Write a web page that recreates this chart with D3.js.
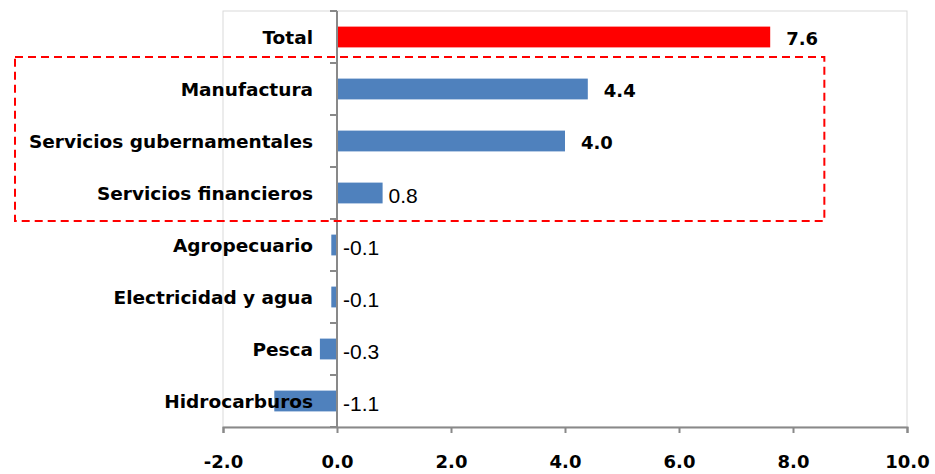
<!DOCTYPE html>
<html>
<head>
<meta charset="utf-8">
<script src="https://cdn.jsdelivr.net/npm/d3@7"></script>
<style>
  body { margin: 0; background: #fff; }
  svg { display: block; }
  .cat { font-family: "DejaVu Sans", sans-serif; font-weight: bold; font-size: 18.5px; fill: #000; }
  .val { font-family: "DejaVu Sans", sans-serif; font-weight: bold; font-size: 18px; fill: #000; }
  .val.light { font-family: "Liberation Sans", Arial, sans-serif; font-weight: normal; font-size: 21px; }
  .tick text { font-family: "DejaVu Sans", sans-serif; font-weight: bold; font-size: 18px; fill: #000; }
</style>
</head>
<body>
<script>
var width = 935;
var height = 474;
var margin = {top: 11, right: 28, bottom: 47, left: 223};

// data
var categories = ["Total", "Manufactura", "Servicios gubernamentales", "Servicios financieros",
                  "Agropecuario", "Electricidad y agua", "Pesca", "Hidrocarburos"];
var values = [7.6, 4.4, 4.0, 0.8, -0.1, -0.1, -0.3, -1.1];
var xTicks = [-2, 0, 2, 4, 6, 8, 10];
var highlighted = ["Manufactura", "Servicios gubernamentales", "Servicios financieros"];
var boldLabels = ["Total", "Manufactura", "Servicios gubernamentales"];

var data = categories.map(function(c, i) { return {cat: c, value: values[i]}; });

var svg = d3.select("body").append("svg")
    .attr("width", width)
    .attr("height", height);

var x = d3.scaleLinear()
    .domain([-2, 10])
    .range([margin.left, width - margin.right]);

var y = d3.scaleBand()
    .domain(categories)
    .range([margin.top, height - margin.bottom])
    .paddingInner(0.6)
    .paddingOuter(0.3);

var plotBottom = height - margin.bottom;

// plot area border
svg.append("rect")
    .attr("x", x(-2))
    .attr("y", margin.top)
    .attr("width", x(10) - x(-2))
    .attr("height", plotBottom - margin.top)
    .style("fill", "none")
    .style("stroke", "#d9d9d9")
    .style("stroke-width", 1);

// bars
svg.selectAll("rect.bar")
    .data(data)
  .enter().append("rect")
    .attr("class", "bar")
    .attr("x", function(d) { return x(Math.min(0, d.value)); })
    .attr("y", function(d) { return y(d.cat); })
    .attr("width", function(d) { return Math.abs(x(d.value) - x(0)); })
    .attr("height", y.bandwidth())
    .style("fill", function(d) { return d.cat == "Total" ? "#ff0000" : "#4f81bd"; });

// x axis
var xAxis = d3.axisBottom(x)
    .tickValues(xTicks)
    .tickSize(6)
    .tickPadding(22)
    .tickFormat(d3.format(".1f"));

var gx = svg.append("g")
    .attr("class", "axis")
    .attr("transform", "translate(0," + plotBottom + ")")
    .call(xAxis);
gx.select(".domain").style("stroke", "#898989").style("stroke-width", 2);
gx.selectAll(".tick line").style("stroke", "#898989").style("stroke-width", 2);
gx.selectAll(".tick text").text(function(d) { return d3.format(".1f")(d).replace("−", "-"); });

// y axis line with ticks between categories
svg.append("line")
    .attr("x1", x(0)).attr("x2", x(0))
    .attr("y1", margin.top).attr("y2", plotBottom)
    .style("stroke", "#898989")
    .style("stroke-width", 2);

var bounds = categories.map(function(c) { return y(c) - y.step() * y.paddingInner() / 2; });
bounds.push(plotBottom);
svg.selectAll("line.ytick")
    .data(bounds)
  .enter().append("line")
    .attr("class", "ytick")
    .attr("x1", x(0) - 7).attr("x2", x(0))
    .attr("y1", function(d) { return d; })
    .attr("y2", function(d) { return d; })
    .style("stroke", "#898989")
    .style("stroke-width", 2);

// category labels
svg.selectAll("text.cat")
    .data(data)
  .enter().append("text")
    .attr("class", "cat")
    .attr("x", x(0) - 24)
    .attr("y", function(d) { return y(d.cat) + y.bandwidth() / 2; })
    .attr("dy", "0.36em")
    .style("text-anchor", "end")
    .text(function(d) { return d.cat; });

// value labels
svg.selectAll("text.val")
    .data(data)
  .enter().append("text")
    .attr("class", function(d) { return boldLabels.indexOf(d.cat) >= 0 ? "val" : "val light"; })
    .attr("x", function(d) {
      var off = boldLabels.indexOf(d.cat) >= 0 ? 16 : 6;
      return x(Math.max(0, d.value)) + off;
    })
    .attr("y", function(d) { return y(d.cat) + y.bandwidth() / 2 + 2; })
    .attr("dy", "0.36em")
    .text(function(d) { return d3.format(".1f")(d.value).replace("−", "-"); });

// dashed highlight box around the service/manufacture group
var boxTop = y(highlighted[0]) - y.step() * y.paddingInner() / 2 - 6;
var boxBottom = y(highlighted[highlighted.length - 1]) + y.bandwidth() + y.step() * y.paddingInner() / 2 + 2;
svg.append("rect")
    .attr("x", 15)
    .attr("y", boxTop)
    .attr("width", x(8.55) - 15)
    .attr("height", boxBottom - boxTop)
    .style("fill", "none")
    .style("stroke", "#ff0000")
    .style("stroke-width", 2)
    .style("stroke-dasharray", "8,5");
</script>
</body>
</html>
